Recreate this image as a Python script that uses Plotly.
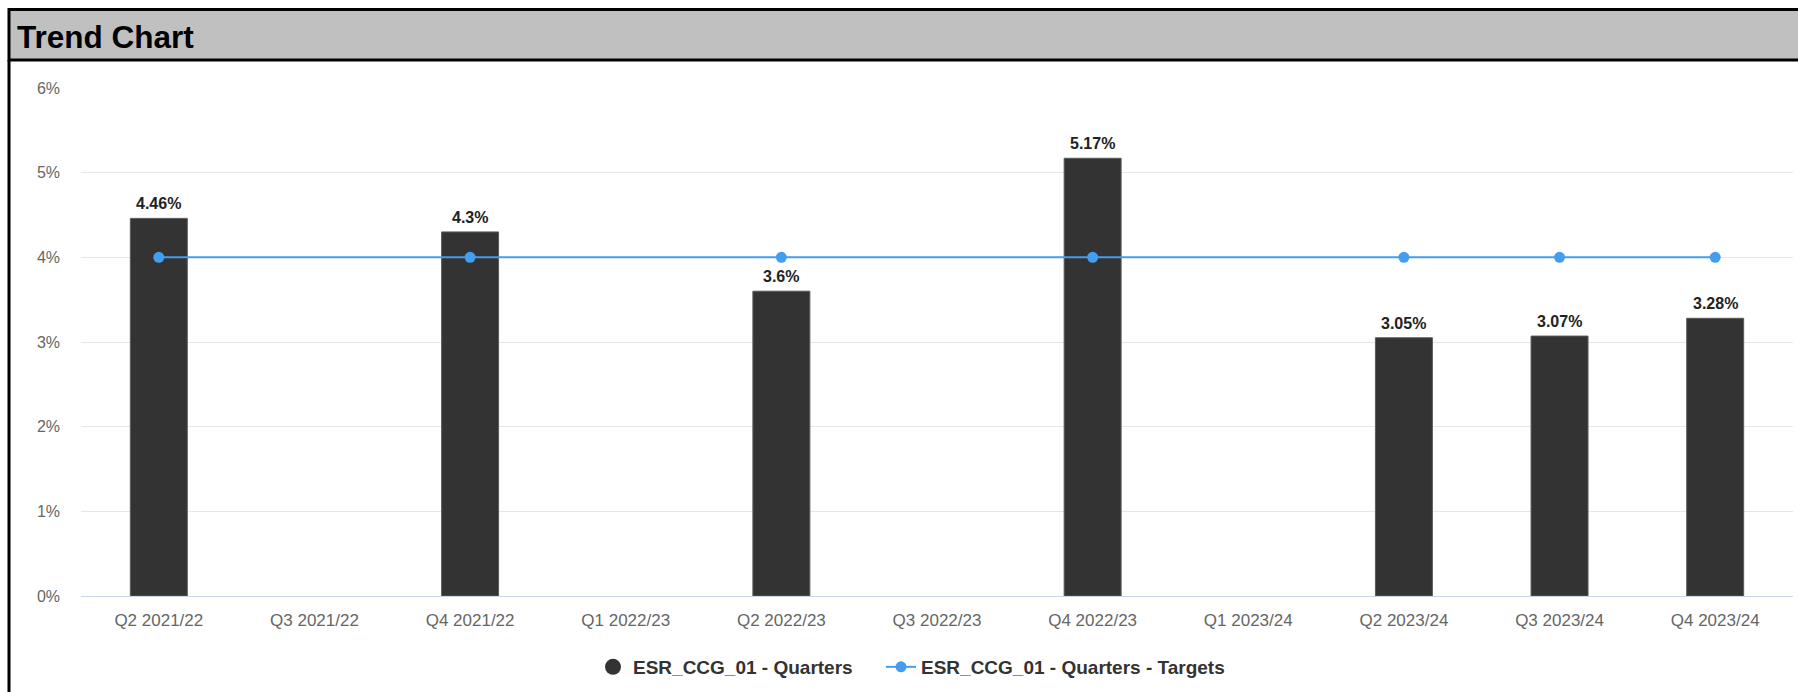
import plotly.graph_objects as go

categories = ["Q2 2021/22", "Q3 2021/22", "Q4 2021/22", "Q1 2022/23", "Q2 2022/23",
              "Q3 2022/23", "Q4 2022/23", "Q1 2023/24", "Q2 2023/24", "Q3 2023/24", "Q4 2023/24"]
quarter_values = [4.46, None, 4.3, None, 3.6, None, 5.17, None, 3.05, 3.07, 3.28]
quarter_labels = ["4.46%", None, "4.3%", None, "3.6%", None, "5.17%", None, "3.05%", "3.07%", "3.28%"]
target_categories = ["Q2 2021/22", "Q4 2021/22", "Q2 2022/23", "Q4 2022/23", "Q2 2023/24", "Q3 2023/24", "Q4 2023/24"]
target_values = [4, 4, 4, 4, 4, 4, 4]
y_ticks = [0, 1, 2, 3, 4, 5, 6]
y_tick_labels = ["0%", "1%", "2%", "3%", "4%", "5%", "6%"]

FONT = "Liberation Sans, Arial, sans-serif"
PAGE_W, PAGE_H = 1798, 692
L, R, T, B = 81, 1793, 88, 596
W, H = R - L, B - T


def px_x(x):
    return (x - L) / W


def px_y(y):
    return (B - y) / H


fig = go.Figure()

fig.add_trace(go.Bar(
    x=categories, y=quarter_values,
    marker=dict(color="#333333", line=dict(color="#5a5a5a", width=1)),
    name="ESR_CCG_01 - Quarters", showlegend=False, hoverinfo="x+y",
))
# legend entry with circle symbol for the bar series
fig.add_trace(go.Scatter(
    x=[None], y=[None], mode="markers",
    marker=dict(color="#333333", size=17, symbol="circle"),
    name="ESR_CCG_01 - Quarters", showlegend=True, legend="legend",
))
fig.add_trace(go.Scatter(
    x=target_categories, y=target_values, mode="lines+markers",
    line=dict(color="#459df0", width=2),
    marker=dict(color="#459df0", size=11),
    name="ESR_CCG_01 - Quarters - Targets", legend="legend2",
))

annotations = []
for c, v, lab in zip(categories, quarter_values, quarter_labels):
    if v is None:
        continue
    annotations.append(dict(
        x=c, y=v, xref="x", yref="y", text=lab, showarrow=False,
        yanchor="bottom", yshift=4,
        font=dict(family=FONT, size=16, color="#222222", weight="bold"),
    ))

annotations.append(dict(
    x=px_x(15), y=px_y(37), xref="paper", yref="paper", text="<b>Trend Chart</b>",
    showarrow=False, xanchor="left", yanchor="middle",
    font=dict(family=FONT, size=31.5, color="#000000"),
))

shapes = [
    dict(type="rect", xref="paper", yref="paper",
         x0=px_x(9), x1=px_x(1805), y0=px_y(60), y1=px_y(9.5),
         fillcolor="#c0c0c0", line=dict(color="#000000", width=3), layer="below"),
    dict(type="line", xref="paper", yref="paper",
         x0=px_x(9), x1=px_x(9), y0=px_y(60), y1=px_y(700),
         line=dict(color="#000000", width=3), layer="above"),
]

legend_font = dict(family=FONT, size=19, color="#333333", weight="bold")

fig.update_layout(
    width=PAGE_W, height=PAGE_H, autosize=False,
    margin=dict(l=L, r=PAGE_W - R, t=T, b=PAGE_H - B, pad=0),
    paper_bgcolor="#ffffff", plot_bgcolor="#ffffff",
    bargap=0.634,
    font=dict(family=FONT, size=16, color="#666666"),
    xaxis=dict(
        categoryorder="array", categoryarray=categories, type="category",
        range=[-0.5, len(categories) - 0.5],
        showgrid=False, showline=True, linecolor="#ccd6eb", linewidth=1,
        ticks="", tickfont=dict(family=FONT, size=17, color="#666666"),
        ticklabelstandoff=9, zeroline=False,
    ),
    yaxis=dict(
        range=[0, 6], tickvals=y_ticks, ticktext=y_tick_labels,
        showgrid=True, gridcolor="#e6e6e6", gridwidth=1,
        zeroline=False, showline=False, ticks="",
        tickfont=dict(family=FONT, size=16, color="#666666"),
        ticklabelstandoff=20,
    ),
    legend=dict(
        orientation="h", x=px_x(593), xanchor="left", y=px_y(667), yanchor="middle",
        font=legend_font, bgcolor="rgba(0,0,0,0)", itemsizing="trace",
    ),
    legend2=dict(
        orientation="h", x=px_x(881), xanchor="left", y=px_y(667), yanchor="middle",
        font=legend_font, bgcolor="rgba(0,0,0,0)", itemsizing="trace",
    ),
    annotations=annotations,
    shapes=shapes,
    showlegend=True,
)

fig.write_html("out.html")
